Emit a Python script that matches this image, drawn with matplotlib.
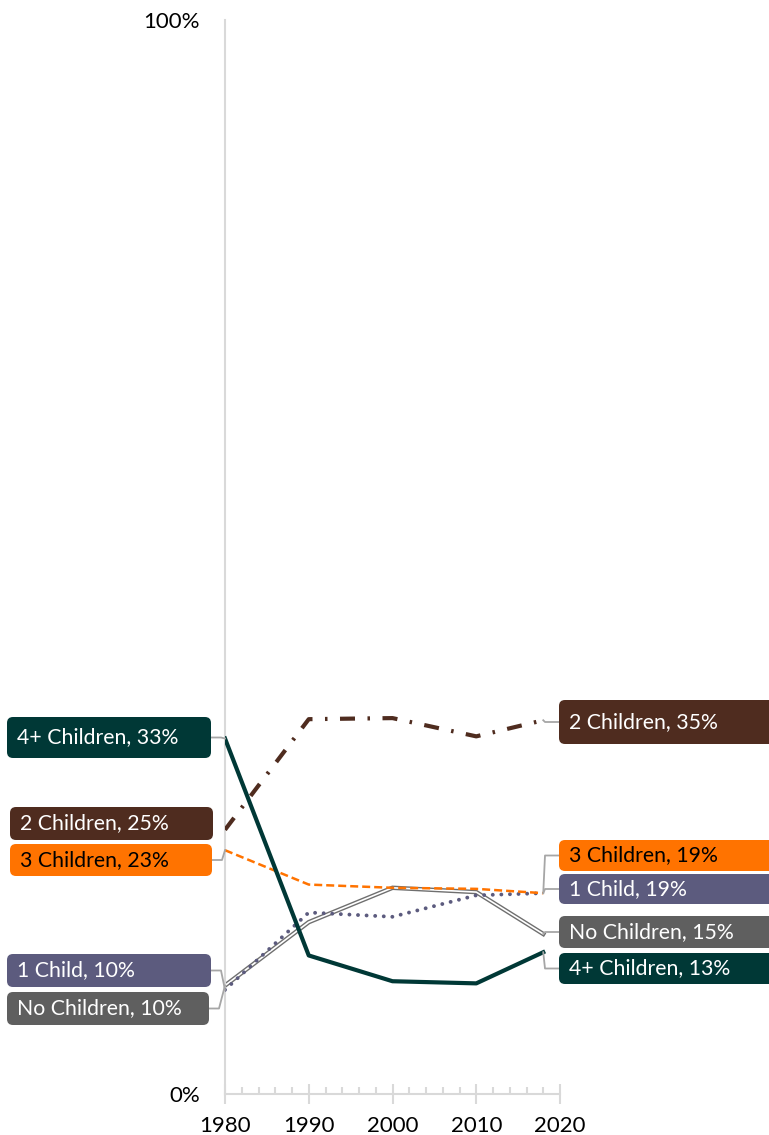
import matplotlib
matplotlib.use("Agg")
import matplotlib.pyplot as plt
from matplotlib.patches import FancyBboxPatch
from matplotlib.lines import Line2D
from matplotlib.ticker import MultipleLocator, FixedLocator

years = [1980, 1990, 2000, 2010, 2018]
four_plus = [33.1, 12.9, 10.5, 10.3, 13.2]
two_children = [24.6, 34.9, 35.0, 33.3, 34.8]
three_children = [22.7, 19.5, 19.2, 19.1, 18.7]
one_child = [9.7, 16.9, 16.5, 18.5, 18.7]
no_children = [10.1, 16.0, 19.2, 18.8, 14.9]

names = ["4+ Children", "2 Children", "3 Children", "1 Child", "No Children"]
colors = {"4+ Children": "#003836", "2 Children": "#4F2C1F", "3 Children": "#FF7300",
          "1 Child": "#5C5B7E", "No Children": "#5F5F5F"}
text_colors = {"4+ Children": "white", "2 Children": "white", "3 Children": "black",
               "1 Child": "white", "No Children": "white"}
series = {"4+ Children": four_plus, "2 Children": two_children, "3 Children": three_children,
          "1 Child": one_child, "No Children": no_children}

W, H = 769, 1135
fig = plt.figure(figsize=(W / 100, H / 100), dpi=100)
ax = fig.add_axes([225 / W, 1 - 1094 / H, (560 - 225) / W, (1094 - 20) / H])

FONT = "Lato"
FS = 15.3
TFS = 16.0

ax.plot(years, no_children, color="#6F6F6F", lw=3.2, solid_joinstyle="miter", zorder=2)
ax.plot(years, no_children, color="white", lw=1.2, solid_joinstyle="miter", zorder=2.1)
ax.plot(years, one_child, color=colors["1 Child"], lw=2.8, linestyle=(0, (0.01, 2.2)),
        dash_capstyle="round", zorder=3)
ax.plot(years, three_children, color=colors["3 Children"], lw=1.8, linestyle=(0, (3.2, 1.6)), zorder=3)
ax.plot(years, two_children, color=colors["2 Children"], lw=3.0, linestyle=(0, (3.6, 3.0, 0.6, 3.0)), zorder=3)
ax.plot(years, four_plus, color=colors["4+ Children"], lw=3.0, zorder=4)

ax.set_xlim(1980, 2020)
ax.set_ylim(0, 100)
for s in ["top", "right"]:
    ax.spines[s].set_visible(False)
for s in ["left", "bottom"]:
    ax.spines[s].set_color("#D9D9D9")
    ax.spines[s].set_linewidth(1.5)
ax.xaxis.set_major_locator(MultipleLocator(10))
ax.xaxis.set_minor_locator(MultipleLocator(2))
ax.tick_params(axis="x", which="major", direction="inout", length=14, width=1.5, color="#D9D9D9",
               labelsize=TFS, pad=9)
ax.tick_params(axis="x", which="minor", direction="in", length=5, width=1.5, color="#D9D9D9")
ax.yaxis.set_major_locator(FixedLocator([0, 100]))
ax.set_yticklabels(["0%", "100%"])
ax.tick_params(axis="y", length=0, labelsize=TFS, pad=18)
for lbl in ax.get_xticklabels() + ax.get_yticklabels():
    lbl.set_fontfamily(FONT)
ax.patch.set_alpha(0)

# label boxes: (name, index, x0, y0_top, x1, y1_bottom) in pixels from the top-left
boxes = [
    ("4+ Children", 0, 7, 717, 211, 758),
    ("2 Children", 0, 10, 807, 213, 840),
    ("3 Children", 0, 10, 844, 212, 876),
    ("1 Child", 0, 7, 954, 211, 987),
    ("No Children", 0, 7, 992, 209, 1025),
    ("2 Children", -1, 559, 700, 790, 744),
    ("3 Children", -1, 559, 840, 790, 871),
    ("1 Child", -1, 559, 874, 790, 904),
    ("No Children", -1, 559, 916, 790, 948),
    ("4+ Children", -1, 559, 953, 790, 984),
]

fig.canvas.draw()
for name, idx, x0, y0, x1, y1 in boxes:
    val = series[name][idx]
    px, py = ax.transData.transform((years[idx], val))
    yc_disp = H - (y0 + y1) / 2
    if idx == 0:
        ex = x1
        pts = [(ex, yc_disp), (ex + 10, yc_disp), (px, py)]
    else:
        ex = x0
        pts = [(px, py), (ex - 14, yc_disp), (ex, yc_disp)]
    if name != "2 Children" or idx != 0:
        fig.add_artist(Line2D([p[0] / W for p in pts], [p[1] / H for p in pts],
                              transform=fig.transFigure, color="#A6A6A6", lw=1.3, zorder=1))
    patch = FancyBboxPatch((x0, H - y1), x1 - x0, y1 - y0,
                           boxstyle="round,pad=0,rounding_size=6",
                           transform=None, facecolor=colors[name], edgecolor="none", zorder=5)
    fig.add_artist(patch)
    fig.text((x0 + 10) / W, yc_disp / H, f"{name}, {round(val)}%", color=text_colors[name],
             fontsize=FS, fontfamily=FONT, va="center", ha="left", zorder=6)

fig.savefig("out.png", dpi=100)
